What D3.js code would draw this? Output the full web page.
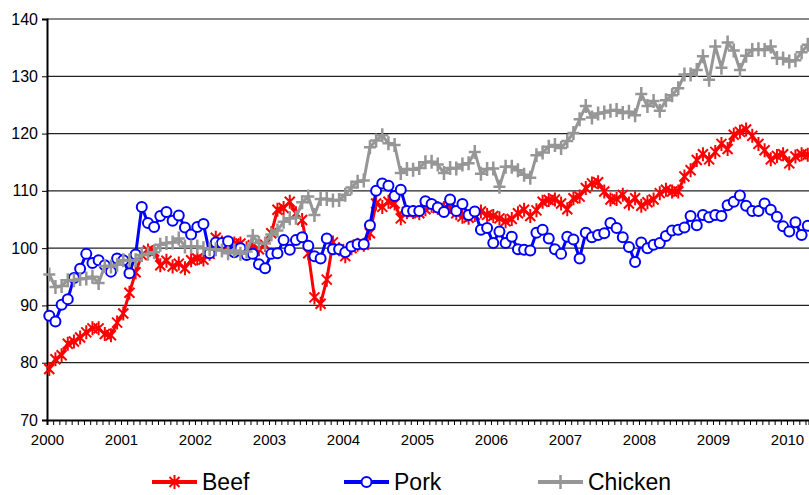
<!DOCTYPE html>
<html lang="en">
<head>
<meta charset="UTF-8">
<title>Beef, pork and chicken</title>
<style>
  body { margin: 0; background: #fff; }
  svg { display: block; font-family: "Liberation Sans", Arial, sans-serif; }
</style>
</head>
<body>
<script src="https://cdn.jsdelivr.net/npm/d3@7"></script>
<script>
// monthly index values, Jan 2000 .. Apr 2010
const years = ["2000","2001","2002","2003","2004","2005","2006","2007","2008","2009","2010"];
const beef = [
  78.9, 80.6, 81.3, 83.3, 83.7, 84.4, 85.3, 86.0, 86.0, 85.0, 84.8, 87.0,
  88.6, 92.2, 95.8, 98.8, 99.6, 99.4, 97.0, 97.8, 96.8, 97.3, 96.5, 97.9,
  98.2, 98.0, 99.0, 101.8, 101.0, 100.5, 100.8, 100.8, 100.0, 100.5, 99.8, 100.6,
  102.6, 106.7, 107.0, 108.1, 106.1, 104.9, 99.1, 91.4, 90.3, 94.5, 101.0, 99.8,
  98.6, 100.0, 100.6, 100.6, 102.6, 107.8, 107.2, 108.1, 107.8, 105.2, 106.3, 106.3,
  106.1, 106.8, 107.4, 107.0, 107.0, 107.2, 106.1, 105.5, 105.3, 105.8, 106.4, 105.8,
  105.6, 105.2, 104.7, 105.1, 106.1, 106.7, 105.6, 106.6, 108.1, 108.4, 108.5, 107.8,
  106.8, 108.7, 109.0, 110.5, 111.3, 111.5, 109.9, 108.5, 108.6, 109.3, 107.8, 108.7,
  107.4, 108.0, 108.5, 109.6, 110.2, 109.9, 109.9, 112.5, 113.6, 115.4, 116.4, 115.5,
  116.8, 118.2, 117.3, 119.8, 120.3, 120.7, 119.6, 118.2, 117.1, 115.5, 116.1, 116.4,
  114.8, 116.0, 116.4, 116.3
];
const pork = [
  88.2, 87.2, 90.1, 91.1, 94.8, 96.4, 99.0, 97.4, 97.9, 97.0, 95.9, 98.2,
  97.9, 95.6, 98.9, 107.2, 104.4, 103.7, 105.6, 106.3, 104.8, 105.7, 103.6, 102.4,
  103.7, 104.2, 99.1, 101.0, 100.9, 101.2, 99.3, 100.0, 98.8, 99.0, 97.2, 96.5,
  99.0, 99.1, 101.4, 99.7, 101.4, 101.9, 100.4, 98.6, 98.2, 101.7, 99.8, 99.8,
  99.3, 100.3, 100.7, 100.7, 104.0, 110.0, 111.3, 110.9, 109.1, 110.2, 106.5, 106.5,
  106.5, 108.2, 107.7, 107.1, 106.3, 108.5, 106.5, 107.7, 105.8, 106.4, 103.2, 103.5,
  100.9, 102.9, 100.9, 102.0, 99.8, 99.7, 99.6, 102.7, 103.2, 101.7, 99.8, 99.0,
  102.0, 101.5, 98.2, 102.7, 101.9, 102.3, 102.6, 104.4, 103.5, 101.9, 100.2, 97.6,
  101.0, 100.0, 100.6, 100.9, 102.1, 103.1, 103.2, 103.6, 105.6, 104.0, 105.8, 105.4,
  105.8, 105.6, 107.5, 108.1, 109.2, 107.4, 106.5, 106.5, 107.8, 106.7, 105.5, 103.8,
  102.9, 104.5, 102.3, 103.9
];
const chicken = [
  95.4, 93.2, 93.4, 94.4, 94.4, 94.6, 94.7, 95.0, 93.9, 96.9, 96.8, 97.1,
  97.9, 97.9, 97.9, 98.8, 99.0, 99.3, 100.6, 100.9, 101.0, 101.7, 100.3, 100.3,
  100.3, 100.0, 99.8, 99.8, 99.6, 99.1, 99.6, 99.0, 99.4, 102.1, 100.9, 100.8,
  102.4, 103.1, 104.6, 105.2, 105.3, 108.0, 109.0, 105.8, 108.6, 108.6, 108.3, 108.4,
  109.3, 110.6, 111.6, 111.8, 117.6, 118.8, 119.7, 118.3, 118.0, 113.1, 113.8, 113.7,
  114.0, 115.0, 115.1, 114.6, 113.1, 114.0, 113.9, 114.6, 114.8, 116.8, 113.0, 113.8,
  113.9, 110.7, 114.2, 114.2, 113.6, 112.8, 112.3, 116.2, 116.7, 117.7, 118.0, 117.5,
  118.7, 120.1, 122.5, 124.8, 122.8, 123.5, 123.7, 124.0, 124.1, 123.6, 123.8, 123.2,
  126.9, 124.8, 125.7, 124.0, 125.8, 126.7, 127.9, 130.3, 130.3, 131.1, 133.5, 129.4,
  135.2, 131.5, 135.9, 134.5, 131.1, 133.6, 134.6, 134.7, 134.6, 135.2, 133.2, 133.1,
  132.6, 132.8, 134.2, 135.5
];
const yTicks = [70, 80, 90, 100, 110, 120, 130, 140];

const series = [
  {name: "Beef", values: beef, color: "#ff0000", marker: "star"},
  {name: "Pork", values: pork, color: "#0000ff", marker: "circle"},
  {name: "Chicken", values: chicken, color: "#969696", marker: "plus"}
];

const width = 809, height = 495;
const margin = {top: 19, right: 0, bottom: 75, left: 47};
const off = 0.37; // months sit a little right of the year tick

const x = d3.scaleLinear()
    .domain([-off, 123.2])
    .range([margin.left, width - margin.right]);
const y = d3.scaleLinear()
    .domain([70, 140])
    .range([height - margin.bottom, margin.top]);

const svg = d3.select("body").append("svg")
    .attr("width", width)
    .attr("height", height);

// gridlines
svg.append("g")
    .selectAll("line")
    .data(yTicks.slice(1))
    .join("line")
    .attr("x1", margin.left)
    .attr("x2", width)
    .attr("y1", d => y(d))
    .attr("y2", d => y(d))
    .attr("stroke", d => d === 140 ? "#888" : "#222")
    .attr("stroke-width", d => d === 140 ? 2 : 1.2);

// y axis
svg.append("g")
    .attr("transform", `translate(${margin.left},0)`)
    .call(d3.axisLeft(y).tickValues(yTicks).tickSize(5).tickPadding(4))
    .call(g => g.select(".domain").attr("stroke", "#000").attr("stroke-width", 2))
    .call(g => g.selectAll(".tick line").attr("stroke", "#000"))
    .call(g => g.selectAll("text").attr("font-size", 16).attr("fill", "#000"));

// x axis: a tick each month, label each January
const monthTicks = d3.range(0, 124).map(k => k - off);
svg.append("g")
    .attr("transform", `translate(0,${y(70)})`)
    .call(d3.axisBottom(x)
        .tickValues(monthTicks)
        .tickSize(5)
        .tickPadding(9)
        .tickFormat((d, i) => i % 12 === 0 ? years[i / 12] : ""))
    .call(g => g.select(".domain").attr("stroke", "#000").attr("stroke-width", 2))
    .call(g => g.selectAll(".tick line").attr("stroke", "#000"))
    .call(g => g.selectAll("text").attr("font-size", 15).attr("fill", "#000"));

function drawMarker(sel, type, color) {
  if (type === "circle") {
    sel.append("circle").attr("r", 5).attr("fill", "#fff")
        .attr("stroke", color).attr("stroke-width", 2);
  } else if (type === "star") {
    sel.append("path").attr("d", "M-5,-5L5,5M-5,5L5,-5M0,-7L0,7")
        .attr("stroke", color).attr("stroke-width", 2).attr("fill", "none");
  } else {
    sel.append("path").attr("d", "M-6,0L6,0M0,-7L0,7")
        .attr("stroke", color).attr("stroke-width", 2.5).attr("fill", "none");
  }
}

const line = d3.line()
    .x((d, i) => x(i))
    .y(d => y(d));

const plot = svg.append("g");
series.forEach(s => {
  plot.append("path")
      .attr("d", line(s.values))
      .attr("fill", "none")
      .attr("stroke", s.color)
      .attr("stroke-width", 3)
      .attr("stroke-linejoin", "round");
  plot.append("g")
      .selectAll("g")
      .data(s.values)
      .join("g")
      .attr("transform", (d, i) => `translate(${x(i)},${y(d)})`)
      .each(function() { drawMarker(d3.select(this), s.marker, s.color); });
});

// legend
const legendX = [152, 344, 538];
const legend = svg.append("g")
    .selectAll("g")
    .data(series)
    .join("g")
    .attr("transform", (d, i) => `translate(${legendX[i]},482)`);
legend.append("line")
    .attr("x1", 0).attr("x2", 45)
    .attr("stroke", d => d.color)
    .attr("stroke-width", 4);
legend.each(function(d) {
  const g = d3.select(this).append("g").attr("transform", "translate(22.5,0)");
  drawMarker(g, d.marker, d.color);
});
legend.append("text")
    .attr("x", 50)
    .attr("dy", "0.35em")
    .attr("font-size", 23)
    .attr("fill", "#000")
    .text(d => d.name);
</script>
</body>
</html>
